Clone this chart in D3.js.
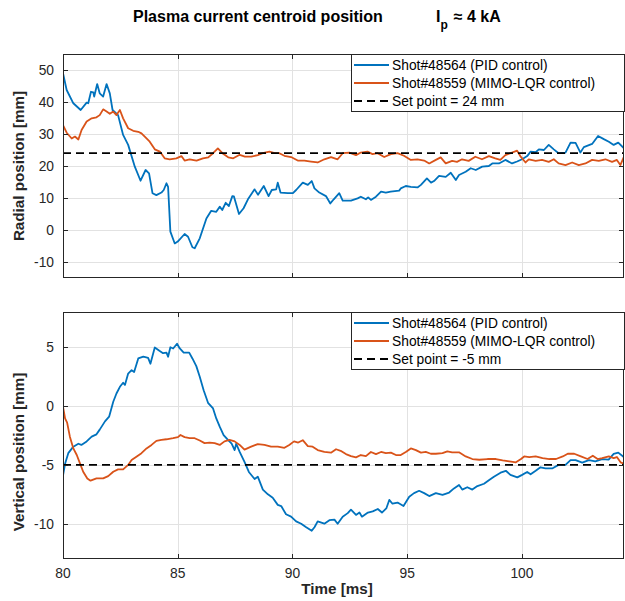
<!DOCTYPE html>
<html>
<head>
<meta charset="UTF-8">
<title>Plasma current centroid position</title>
<script src="https://d3js.org/d3.v7.min.js"></script>
<style>
body { margin: 0; background: #fff; }
svg { display: block; font-family: "Liberation Sans", Arial, sans-serif; }
</style>
</head>
<body>
<script>
// time [ms] , position [mm]
var pidRadial = [[80,49],[80.16,43.75],[80.45,39.6],[80.77,37.5],[81.03,39.8],[81.1,39.6],[81.22,43.2],[81.32,43],[81.36,41.7],[81.49,45.6],[81.6,42.7],[81.75,41.7],[81.9,45.6],[82.04,42.7],[82.16,37.5],[82.4,35.9],[82.62,29.7],[82.84,26.6],[83.13,19.8],[83.38,15.4],[83.6,18.75],[83.75,17.7],[83.9,11.5],[84.07,10.9],[84.29,11.7],[84.39,12.5],[84.51,14.6],[84.58,13.5],[84.68,-0.5],[84.87,-4.2],[85.0,-3.6],[85.3,-1.25],[85.45,-2.1],[85.64,-5.4],[85.74,-5.7],[85.96,-2.6],[86.25,3.6],[86.46,6.0],[86.68,5.7],[86.83,7.3],[86.94,6.25],[87.09,8.5],[87.23,7.5],[87.38,10.6],[87.45,10.5],[87.67,5.0],[87.87,6.8],[88.06,9.6],[88.35,12.7],[88.5,11.0],[88.75,13.75],[88.96,10.6],[89.1,12.5],[89.29,12.7],[89.36,14.8],[89.48,11.7],[89.8,11.5],[90.02,11.5],[90.16,12.5],[90.45,14.8],[90.67,14.1],[90.84,15.3],[90.96,13.0],[91.17,11.7],[91.46,10.6],[91.65,8.3],[91.8,9.6],[92.04,11.5],[92.19,9.2],[92.55,9.2],[92.84,9.9],[92.98,10.4],[93.2,9.6],[93.3,10.2],[93.42,9.4],[93.64,10.4],[93.86,12.0],[94.07,11.7],[94.28,12.0],[94.65,12.3],[94.72,13.0],[94.94,13.75],[95.16,13.5],[95.45,13.3],[95.6,14.1],[95.86,16.1],[96.04,14.8],[96.17,15.3],[96.39,16.9],[96.68,16.6],[96.9,17.9],[97.12,15.6],[97.26,17.2],[97.55,18.2],[97.77,19.3],[97.99,18.75],[98.27,19.8],[98.56,20.0],[98.71,20.8],[99.0,20.8],[99.28,21.9],[99.57,20.8],[99.79,21.4],[100.01,22.1],[100.23,23.1],[100.38,24.5],[100.6,24.3],[100.74,25.2],[100.96,25.0],[101.17,26.6],[101.39,25.2],[101.6,24.0],[101.9,24.2],[102.12,27.3],[102.34,27.2],[102.55,24.2],[102.7,25.9],[103.06,26.9],[103.32,29.4],[103.57,28.4],[103.79,27.6],[104.0,26.6],[104.2,27.3],[104.45,25.5]];

var lqrRadial = [[80,32.8],[80.16,30.4],[80.38,28.6],[80.52,29.2],[80.67,28.3],[80.81,31.25],[81.03,33.9],[81.25,34.9],[81.46,35.2],[81.6,35.9],[81.75,37.7],[81.9,37.0],[82.04,36.3],[82.19,37.0],[82.33,35.9],[82.48,37.5],[82.62,34.9],[82.84,31.8],[83.06,31.0],[83.28,30.7],[83.42,30.2],[83.64,28.6],[83.78,27.6],[84.0,25.2],[84.22,24.5],[84.43,22.4],[84.65,22.1],[84.94,22.4],[85.16,23.1],[85.3,21.7],[85.52,22.1],[85.82,21.7],[86.1,22.4],[86.33,22.7],[86.54,24.0],[86.75,25.5],[86.98,23.8],[87.2,22.7],[87.42,22.4],[87.7,23.5],[87.93,22.9],[88.2,22.9],[88.49,23.4],[88.7,24.0],[89.0,24.5],[89.22,24.0],[89.43,24.0],[89.65,23.2],[89.94,22.8],[90.23,21.7],[90.52,21.7],[90.81,21.4],[91.1,21.1],[91.39,22.1],[91.68,22.8],[91.97,22.1],[92.19,24.0],[92.48,24.2],[92.77,23.4],[92.98,24.2],[93.27,24.5],[93.49,23.7],[93.71,24.0],[94.0,22.8],[94.29,23.7],[94.58,24.0],[94.86,23.2],[95.16,21.9],[95.45,22.1],[95.74,21.7],[95.96,20.8],[96.25,21.9],[96.46,22.7],[96.68,20.8],[96.96,21.6],[97.17,21.3],[97.39,22.1],[97.68,21.6],[97.97,22.9],[98.26,22.1],[98.56,23.1],[98.84,22.4],[99.06,21.9],[99.28,23.4],[99.57,24.2],[99.79,24.8],[99.93,23.1],[100.16,21.1],[100.3,22.1],[100.6,21.6],[100.88,21.9],[101.17,21.3],[101.39,22.1],[101.6,20.8],[101.9,20.3],[102.19,21.1],[102.48,20.3],[102.77,20.8],[103.06,21.9],[103.35,21.6],[103.64,22.1],[103.93,21.3],[104.14,21.9],[104.29,20.3],[104.45,22.9]];

var pidVertical = [[80,-5.9],[80.09,-4.9],[80.23,-4.0],[80.45,-3.45],[80.67,-3.2],[80.8,-3.3],[81.03,-3.0],[81.25,-2.6],[81.46,-2.4],[81.6,-2.0],[81.83,-1.3],[82.01,-0.9],[82.19,0.37],[82.33,1.07],[82.48,1.64],[82.62,1.98],[82.7,1.8],[82.84,2.77],[82.99,3.06],[83.1,2.9],[83.28,4.05],[83.5,4.2],[83.71,4.1],[83.81,3.6],[84.0,4.98],[84.2,4.7],[84.36,4.5],[84.51,4.55],[84.58,4.2],[84.68,5.0],[84.8,4.9],[84.97,5.3],[85.09,4.9],[85.26,4.55],[85.5,4.55],[85.64,4.05],[85.81,3.4],[85.96,2.5],[86.13,1.35],[86.32,0.28],[86.54,-0.2],[86.68,-1.05],[86.83,-1.75],[87.0,-2.46],[87.2,-2.9],[87.35,-3.2],[87.48,-3.74],[87.55,-3.2],[87.7,-3.9],[87.91,-4.75],[88.1,-5.6],[88.35,-6.2],[88.49,-6.0],[88.71,-7.1],[88.93,-7.5],[89.14,-7.8],[89.36,-8.4],[89.51,-8.5],[89.72,-9.2],[89.94,-9.4],[90.16,-9.8],[90.38,-10.0],[90.6,-10.3],[90.84,-10.6],[90.96,-10.3],[91.1,-9.8],[91.39,-10.0],[91.61,-9.7],[91.83,-9.65],[91.97,-10.0],[92.19,-9.4],[92.41,-9.1],[92.55,-8.8],[92.77,-9.25],[92.92,-9.05],[93.03,-9.4],[93.29,-9.05],[93.5,-8.95],[93.72,-8.75],[93.9,-9.05],[94.09,-8.7],[94.22,-7.98],[94.36,-8.3],[94.58,-8.2],[94.84,-8.5],[95.09,-7.7],[95.3,-7.4],[95.52,-7.2],[95.74,-7.4],[95.96,-7.65],[96.25,-7.4],[96.54,-7.55],[96.83,-7.35],[97.04,-7.0],[97.26,-6.7],[97.4,-7.1],[97.62,-6.9],[97.84,-7.1],[98.06,-6.8],[98.35,-6.6],[98.56,-6.3],[98.78,-6.0],[99.07,-5.66],[99.3,-5.5],[99.5,-5.85],[99.8,-6.06],[100.01,-5.85],[100.23,-5.6],[100.38,-5.8],[100.6,-5.5],[100.81,-5.2],[101.03,-5.3],[101.32,-5.3],[101.6,-5.0],[101.9,-5.0],[102.12,-4.6],[102.34,-4.6],[102.63,-4.8],[102.92,-4.6],[103.2,-4.7],[103.5,-4.5],[103.78,-4.55],[104.0,-4.07],[104.2,-3.96],[104.45,-4.35]];

var lqrVertical = [[80,-0.05],[80.09,-1.05],[80.18,-1.4],[80.3,-2.6],[80.45,-3.6],[80.6,-4.16],[80.74,-4.87],[80.88,-5.58],[81.06,-6.15],[81.2,-6.34],[81.46,-6.15],[81.75,-6.15],[81.97,-5.96],[82.19,-5.58],[82.4,-5.38],[82.62,-5.38],[82.84,-5.0],[82.99,-4.59],[83.2,-4.3],[83.42,-4.0],[83.64,-3.6],[83.86,-3.3],[84.07,-2.96],[84.29,-2.87],[84.51,-2.82],[84.8,-2.73],[85.01,-2.64],[85.12,-2.46],[85.3,-2.64],[85.52,-2.73],[85.74,-2.73],[85.96,-2.93],[86.17,-3.15],[86.39,-3.1],[86.61,-3.15],[86.83,-3.3],[87.04,-3.0],[87.26,-2.87],[87.48,-3.0],[87.7,-3.3],[87.91,-3.7],[88.2,-3.45],[88.49,-3.23],[88.78,-3.3],[89.07,-3.45],[89.36,-3.45],[89.65,-3.55],[89.86,-3.3],[90.07,-3.0],[90.25,-3.1],[90.45,-2.9],[90.67,-3.4],[90.88,-3.45],[91.1,-3.74],[91.39,-3.9],[91.68,-3.96],[91.9,-3.67],[92.1,-3.8],[92.33,-4.08],[92.55,-4.25],[92.77,-4.36],[92.98,-4.16],[93.2,-4.25],[93.42,-3.9],[93.64,-4.08],[93.86,-3.9],[94.07,-4.0],[94.29,-3.96],[94.51,-4.16],[94.72,-4.16],[94.94,-3.9],[95.16,-3.6],[95.38,-3.74],[95.6,-3.96],[95.81,-3.9],[96.03,-4.05],[96.25,-4.05],[96.54,-4.0],[96.75,-3.85],[96.96,-3.93],[97.26,-3.93],[97.55,-4.28],[97.84,-4.5],[98.14,-4.56],[98.5,-4.5],[98.87,-4.5],[99.16,-4.61],[99.45,-4.7],[99.74,-4.78],[99.96,-4.5],[100.1,-4.28],[100.32,-4.33],[100.6,-4.28],[100.9,-4.42],[101.2,-4.5],[101.49,-4.5],[101.78,-4.28],[102.0,-4.05],[102.28,-4.05],[102.57,-4.28],[102.86,-4.5],[103.09,-4.22],[103.3,-4.5],[103.5,-4.42],[103.79,-4.28],[104.0,-4.42],[104.14,-4.33],[104.3,-4.78],[104.45,-4.9]];

var radialSetPoint = 24;
var verticalSetPoint = -5;
var timeTicks = [80, 85, 90, 95, 100];
var radialTicks = [-10, 0, 10, 20, 30, 40, 50];
var verticalTicks = [-10, -5, 0, 5];
var legendNames = ["Shot#48564 (PID control)", "Shot#48559 (MIMO-LQR control)"];

var width = 625, height = 601;
var blue = "#0072bd", orange = "#d95319", axisCol = "#262626";

var svg = d3.select("body").append("svg")
    .attr("width", width)
    .attr("height", height);

svg.append("rect").attr("width", width).attr("height", height).attr("fill", "#fff");

var x = d3.scaleLinear().domain([80, 104.45]).range([63, 624]);

var panels = [
  { id: "top", y: d3.scaleLinear().domain([-15, 55]).range([278, 54]),
    ticks: radialTicks, pid: pidRadial, lqr: lqrRadial, sp: radialSetPoint,
    label: "Radial position [mm]", labelY: 166, xLabels: false },
  { id: "bot", y: d3.scaleLinear().domain([-13, 8]).range([559, 312]),
    ticks: verticalTicks, pid: pidVertical, lqr: lqrVertical, sp: verticalSetPoint,
    label: "Vertical position [mm]", labelY: 452, xLabels: true }
];

panels.forEach(function (p) {
  var y = p.y;
  var x0 = x.range()[0], x1 = x.range()[1];
  var yb = y.range()[0], yt = y.range()[1];
  var g = svg.append("g");

  // grid
  g.selectAll(".gx").data(timeTicks).enter().append("line")
      .attr("x1", function (d) { return Math.round(x(d)) + 0.5; })
      .attr("x2", function (d) { return Math.round(x(d)) + 0.5; })
      .attr("y1", yt).attr("y2", yb)
      .attr("stroke", "#e2e2e2");
  g.selectAll(".gy").data(p.ticks).enter().append("line")
      .attr("y1", function (d) { return Math.round(y(d)) + 0.5; })
      .attr("y2", function (d) { return Math.round(y(d)) + 0.5; })
      .attr("x1", x0).attr("x2", x1)
      .attr("stroke", "#e2e2e2");

  svg.append("clipPath").attr("id", "clip-" + p.id)
    .append("rect").attr("x", x0).attr("y", yt).attr("width", x1 - x0).attr("height", yb - yt);

  var line = d3.line()
      .x(function (d) { return x(d[0]); })
      .y(function (d) { return y(d[1]); });

  var lines = g.append("g").attr("clip-path", "url(#clip-" + p.id + ")");
  lines.append("path").datum(p.pid)
      .attr("d", line).attr("fill", "none")
      .attr("stroke", blue).attr("stroke-width", 1.8).attr("stroke-linejoin", "round");
  lines.append("path").datum(p.lqr)
      .attr("d", line).attr("fill", "none")
      .attr("stroke", orange).attr("stroke-width", 1.8).attr("stroke-linejoin", "round");
  lines.append("path").datum([[80, p.sp], [104.45, p.sp]])
      .attr("d", line).attr("fill", "none")
      .attr("stroke", "#000").attr("stroke-width", 1.8).attr("stroke-dasharray", "8,5");

  // box and inward ticks
  g.append("rect").attr("x", x0 + 0.5).attr("y", yt + 0.5)
      .attr("width", x1 - x0 - 1).attr("height", yb - yt - 1)
      .attr("fill", "none").attr("stroke", axisCol);
  timeTicks.forEach(function (t) {
    var xx = Math.round(x(t)) + 0.5;
    g.append("line").attr("x1", xx).attr("x2", xx).attr("y1", yb).attr("y2", yb - 5).attr("stroke", axisCol);
    g.append("line").attr("x1", xx).attr("x2", xx).attr("y1", yt).attr("y2", yt + 5).attr("stroke", axisCol);
  });
  p.ticks.forEach(function (v) {
    var yy = Math.round(y(v)) + 0.5;
    g.append("line").attr("x1", x0).attr("x2", x0 + 5).attr("y1", yy).attr("y2", yy).attr("stroke", axisCol);
    g.append("line").attr("x1", x1).attr("x2", x1 - 5).attr("y1", yy).attr("y2", yy).attr("stroke", axisCol);
  });

  // tick labels
  g.selectAll(".yl").data(p.ticks).enter().append("text")
      .attr("x", 54).attr("y", function (d) { return y(d); })
      .attr("dy", "0.36em").attr("text-anchor", "end")
      .attr("font-size", 13.8).attr("fill", axisCol)
      .text(function (d) { return d; });
  if (p.xLabels) {
    g.selectAll(".xl").data(timeTicks).enter().append("text")
        .attr("x", function (d) { return x(d); }).attr("y", 578)
        .attr("text-anchor", "middle")
        .attr("font-size", 13.8).attr("fill", axisCol)
        .text(function (d) { return d; });
  }

  g.append("text")
      .attr("transform", "translate(24," + p.labelY + ") rotate(-90)")
      .attr("text-anchor", "middle").attr("font-weight", "bold")
      .attr("font-size", 15.2).attr("fill", axisCol)
      .text(p.label);

  // legend
  var lg = g.append("g").attr("transform", "translate(351," + yt + ")");
  lg.append("rect").attr("x", 0.5).attr("y", 0.5).attr("width", 273).attr("height", 57)
      .attr("fill", "#fff").attr("stroke", axisCol);
  var items = [
    { name: legendNames[0], col: blue, dash: null },
    { name: legendNames[1], col: orange, dash: null },
    { name: "Set point = " + p.sp + " mm", col: "#000", dash: "8,5" }
  ];
  items.forEach(function (it, i) {
    var yy = 11 + i * 18;
    lg.append("line").attr("x1", 3).attr("x2", 38).attr("y1", yy).attr("y2", yy)
        .attr("stroke", it.col).attr("stroke-width", 1.8)
        .attr("stroke-dasharray", it.dash);
    lg.append("text").attr("x", 41).attr("y", yy).attr("dy", "0.36em")
        .attr("font-size", 13.8).attr("fill", "#000")
        .text(it.name);
  });
});

svg.append("text").attr("x", width / 2 + 100).attr("y", 594)
    .attr("text-anchor", "middle").attr("font-weight", "bold")
    .attr("font-size", 15.2).attr("fill", axisCol)
    .text("Time [ms]")
    .attr("x", 337);

// title
var title = svg.append("g").attr("font-weight", "bold").attr("fill", "#000");
title.append("text").attr("x", 133).attr("y", 22).attr("font-size", 16)
    .text("Plasma current centroid position");
var ip = title.append("text").attr("x", 436).attr("y", 22).attr("font-size", 16);
ip.append("tspan").text("I");
ip.append("tspan").attr("dy", 7).attr("font-size", 12).text("p");
ip.append("tspan").attr("dy", -7).attr("dx", 6).text("\u2248 4 kA");
</script>
</body>
</html>
